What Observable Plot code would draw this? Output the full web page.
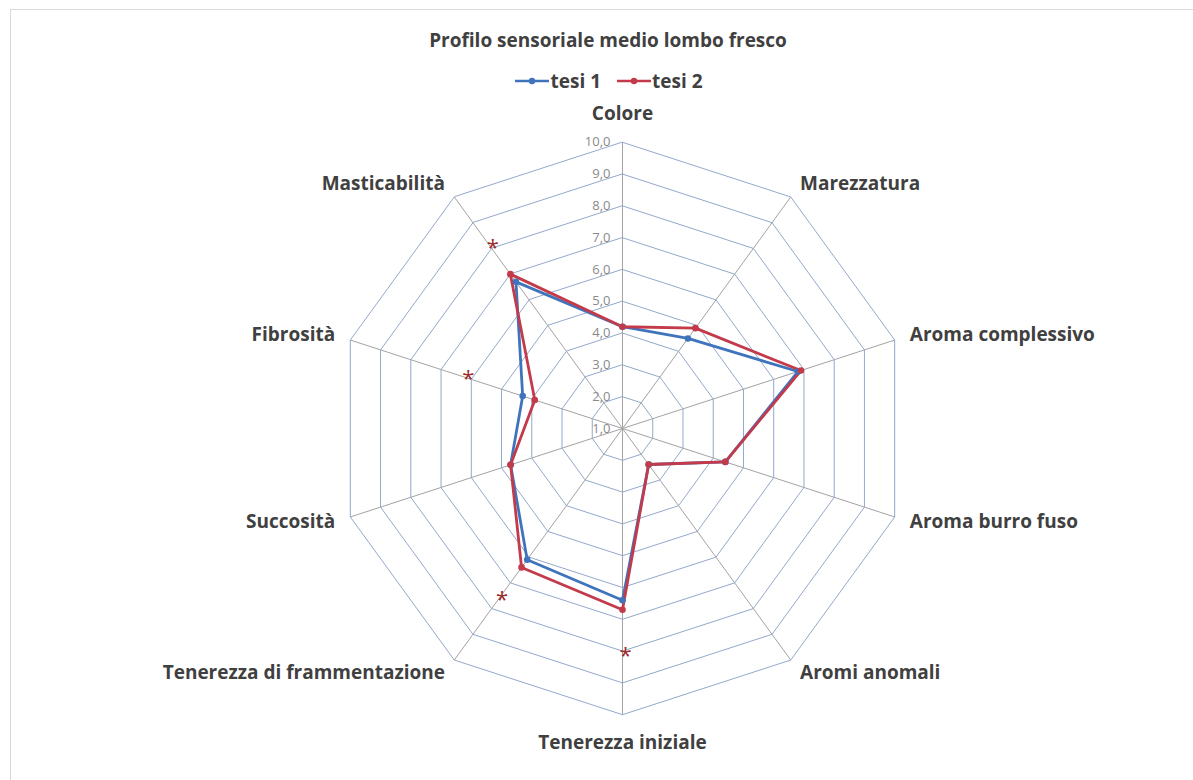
<!DOCTYPE html>
<html>
<head>
<meta charset="utf-8">
<script src="https://cdn.jsdelivr.net/npm/d3@7"></script>
<script src="https://cdn.jsdelivr.net/npm/@observablehq/plot@0.6"></script>
<style>
  body { margin: 0; background: #fff; }
  #chart { position: relative; width: 1193px; height: 780px; overflow: hidden; font-family: "Open Sans", sans-serif; }
  #chart > svg { position: absolute; left: 0; top: 0; }
  .frame { position: absolute; left: 10px; top: 9px; width: 1400px; height: 1000px;
           border-top: 1.5px solid #d9d9d9; border-left: 1.5px solid #d9d9d9; }
  .title { position: absolute; top: 27px; left: 0; width: 1216px; text-align: center;
           font-weight: 700; font-size: 19px; line-height: 26px; color: #404040; }
  .legend { position: absolute; top: 68px; left: 0; width: 1218px; display: flex; justify-content: center;
            gap: 16px; font-weight: 700; font-size: 19px; line-height: 26px; color: #404040; }
  .legend span { display: inline-flex; align-items: center; gap: 1px; }
  .legend svg { display: block; }
</style>
</head>
<body>
<div id="chart">
  <div class="frame"></div>
</div>
<script>
// Sensory attributes, clockwise from the top
const categories = [
  "Colore", "Marezzatura", "Aroma complessivo", "Aroma burro fuso", "Aromi anomali",
  "Tenerezza iniziale", "Tenerezza di frammentazione", "Succosità", "Fibrosità", "Masticabilità"
];
const seriesNames = ["tesi 1", "tesi 2"];
const tesi1 = [4.2, 4.5, 6.8, 4.4, 2.4, 6.4, 6.1, 4.7, 4.3, 6.7];
const tesi2 = [4.2, 4.9, 6.9, 4.4, 2.4, 6.7, 6.4, 4.7, 3.9, 7.0];
const tickValues = [1, 2, 3, 4, 5, 6, 7, 8, 9, 10];
// Attributes with a significant difference, and where their star sits
const sigCategories = ["Masticabilità", "Fibrosità", "Tenerezza di frammentazione", "Tenerezza iniziale"];
const sigLevels = [8.1, 6.2, 7.6, 8.1];

const colors = ["#3f74bd", "#c33a4b"];
const W = 1193, H = 780, CX = 622, CY = 428, UNIT = 31.8;
const MIN = 1, MAX = 10;
const n = categories.length;
const ang = i => (i * 2 * Math.PI) / n;
const px = (i, v) => (v - MIN) * Math.sin(ang(i));
const py = (i, v) => (v - MIN) * Math.cos(ang(i));
const fmt = d3.formatLocale({decimal: ",", thousands: ".", grouping: [3], currency: ["", "€"]}).format(".1f");

// grid rings (decagons) at every tick above the centre
const rings = tickValues.filter(t => t > MIN).flatMap(t =>
  categories.map((c, i) => ({t, x: px(i, t), y: py(i, t)})));
const spokes = categories.map((c, i) => ({x: px(i, MAX), y: py(i, MAX)}));
const series = [tesi1, tesi2].flatMap((vals, s) =>
  vals.map((v, i) => ({series: seriesNames[s], cat: categories[i], x: px(i, v), y: py(i, v)})));
const labels = categories.map((c, i) => {
  const vertical = i === 0 || i === n / 2;
  const r = vertical ? 10.9 : 10.5;
  return {c, x: px(i, r), y: py(i, r), anchor: vertical ? "middle" : (i < n / 2 ? "start" : "end")};
});
const stars = sigCategories.map((c, k) => {
  const i = categories.indexOf(c);
  return {x: px(i, sigLevels[k]), y: py(i, sigLevels[k])};
});

const labelMark = anchor => Plot.text(labels.filter(d => d.anchor === anchor), {
  x: "x", y: "y", text: "c", textAnchor: anchor, fontSize: 19, fontWeight: 700, fill: "#404040"
});

const plot = Plot.plot({
  width: W, height: H, margin: 0,
  x: {domain: [-CX / UNIT, (W - CX) / UNIT], range: [0, W], axis: null},
  y: {domain: [(CY - H) / UNIT, CY / UNIT], range: [H, 0], axis: null},
  style: {fontFamily: "Open Sans, sans-serif", background: "transparent"},
  marks: [
    Plot.link(spokes, {x1: 0, y1: 0, x2: "x", y2: "y", stroke: "#a3a3a3", strokeWidth: 1}),
    Plot.line(rings, {x: "x", y: "y", z: "t", curve: "linear-closed", stroke: "#93a8cb", strokeWidth: 1}),
    Plot.text(tickValues, {x: 0, y: d => d - MIN, text: d => fmt(d), textAnchor: "end", dx: -12,
      fontSize: 13, fill: "#8a8a8a"}),
    Plot.line(series, {x: "x", y: "y", z: "series", stroke: d => colors[seriesNames.indexOf(d.series)],
      curve: "linear-closed", strokeWidth: 2.8, strokeLinejoin: "round"}),
    Plot.dot(series, {x: "x", y: "y", r: 3.3, fill: d => colors[seriesNames.indexOf(d.series)], stroke: "none"}),
    labelMark("middle"),
    labelMark("start"),
    labelMark("end"),
    Plot.text(stars, {x: "x", y: "y", text: () => "*", fontSize: 22, fill: "#9b2a2a", dx: 3, dy: 2})
  ]
});
const chart = document.getElementById("chart");
chart.appendChild(plot);

const title = document.createElement("div");
title.className = "title";
title.textContent = "Profilo sensoriale medio lombo fresco";
chart.appendChild(title);

const legend = document.createElement("div");
legend.className = "legend";
seriesNames.forEach((name, s) => {
  const item = document.createElement("span");
  item.innerHTML = `<svg width="34" height="8"><line x1="0" y1="4" x2="34" y2="4" stroke="${colors[s]}" stroke-width="2.4"/><circle cx="17" cy="4" r="3.2" fill="${colors[s]}"/></svg>`;
  item.appendChild(document.createTextNode(name));
  legend.appendChild(item);
});
chart.appendChild(legend);
</script>
</body>
</html>
